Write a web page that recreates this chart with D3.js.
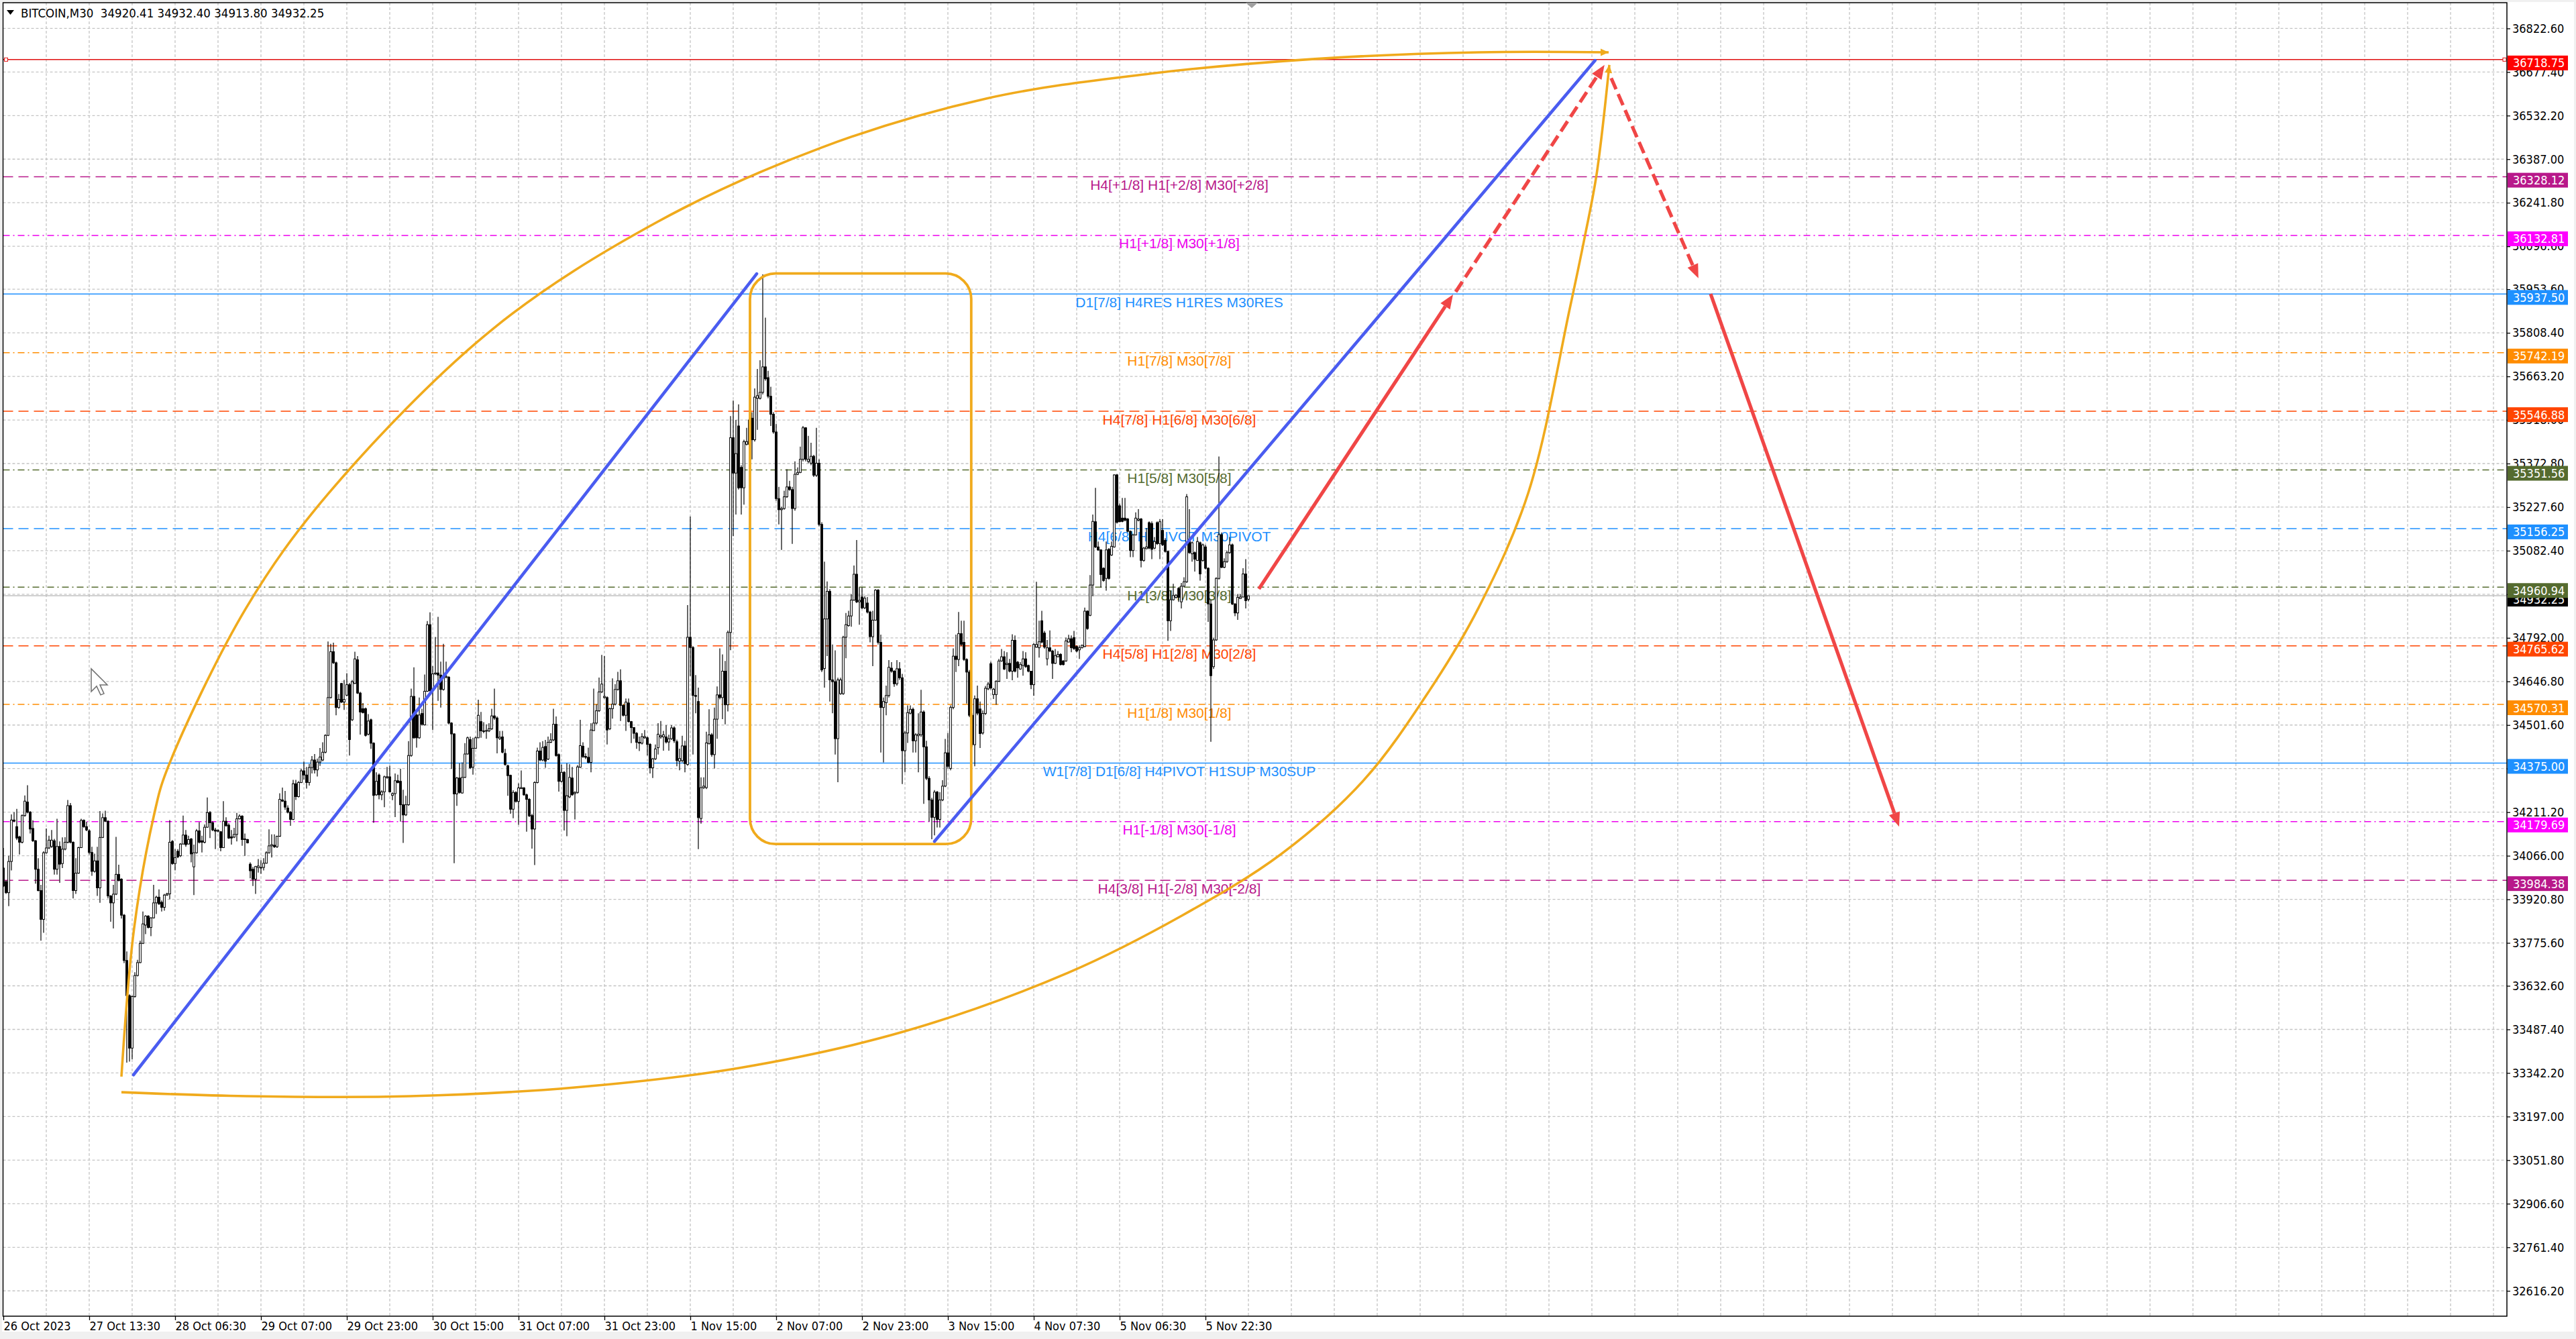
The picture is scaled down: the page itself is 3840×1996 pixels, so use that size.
<!DOCTYPE html>
<html>
<head>
<meta charset="utf-8">
<script src="https://cdn.jsdelivr.net/npm/d3@7"></script>
<style>
body { margin: 0; background: #f0f0f0; }
svg { display: block; }
</style>
</head>
<body>
<svg id="chart" width="3840" height="1996"></svg>
<script>
// ---- data ----
var opens = [
34025,33980,33943,34047,34185,34163,34129,34111,34200,34245,
34211,34157,34116,34021,33950,33854,34076,34092,34097,34116,
34021,34097,34040,34088,34111,34233,34111,33950,34008,34093,
34184,34163,34149,34077,34014,34049,33959,34127,34193,34181,
33932,33909,33938,34004,33988,33868,33717,33600,33425,33597,
33667,33710,33774,33835,33865,33827,33859,33909,33928,33911,
33894,33935,33939,34114,34040,34081,34066,34105,34135,34105,
34122,34029,34076,34149,34116,34111,34161,34210,34176,34152,
34148,34146,34093,34181,34168,34129,34128,34137,34189,34198,
34122,34120,34038,34021,33988,34027,34026,34027,34041,34076,
34099,34101,34096,34131,34252,34248,34225,34211,34187,34306,
34263,34310,34349,34335,34310,34360,34385,34352,34378,34385,
34411,34467,34593,34746,34709,34560,34640,34578,34601,34636,
34519,34640,34719,34608,34556,34556,34471,34519,34441,34269,
34335,34269,34279,34329,34329,34267,34273,34316,34314,34236,
34202,34236,34400,34597,34535,34459,34540,34502,34614,34836,
34616,34672,34675,34668,34620,34661,34661,34508,34472,34272,
34325,34275,34327,34405,34453,34361,34424,34459,34513,34482,
34482,34482,34489,34532,34525,34456,34462,34407,34366,34334,
34221,34277,34247,34290,34292,34269,34254,34200,34155,34310,
34415,34385,34430,34388,34444,34452,34504,34403,34314,34344,
34217,34262,34325,34273,34277,34361,34431,34397,34394,34377,
34483,34508,34549,34612,34593,34593,34489,34556,34571,34620,
34649,34567,34534,34575,34513,34493,34474,34444,34441,34459,
34459,34437,34359,34389,34426,34462,34462,34462,34445,34456,
34492,34446,34381,34383,34432,34370,34794,34760,34600,34580,
34190,34293,34293,34440,34469,34403,34521,34602,34593,34681,
34569,34810,35459,35341,35498,35360,35292,35437,35437,35524,
35452,35590,35590,35610,35695,35659,35597,35537,35478,35256,
35219,35223,35262,35295,35286,35223,35337,35343,35387,35492,
35380,35374,35397,35334,35374,35170,34690,34855,34947,34652,
34646,34456,34606,34606,34794,34833,34865,34918,35004,34912,
34928,34892,34908,34878,34796,34851,34951,34777,34560,34576,
34600,34691,34681,34639,34689,34659,34416,34475,34541,34554,
34449,34466,34469,34545,34429,34324,34252,34194,34278,34187,
34252,34298,34409,34357,34560,34731,34720,34806,34777,34720,
34678,34534,34436,34589,34555,34475,34540,34622,34706,34603,
34603,34647,34715,34729,34703,34707,34681,34784,34711,34688,
34700,34722,34700,34681,34636,34761,34759,34849,34808,34722,
34759,34748,34707,34729,34737,34715,34715,34778,34789,34793,
34763,34752,34759,34763,34881,34867,34968,35179,35095,35085,
35024,34990,35087,35068,35095,35335,35232,35191,35191,35188,
35147,35083,35135,35184,35188,35050,35089,35176,35173,35091,
35176,35106,35150,35117,35080,34849,34919,34927,34957,34912,
34964,34979,35121,35072,35076,35050,35109,35050,35095,35024,
34905,34696,34785,34990,35136,35027,35046,35076,35102,34905,
34875,34923,34928,35005,34920.41];

var highs = [
34092,33984,34066,34204,34211,34222,34133,34204,34267,34301,
34215,34184,34118,34058,33969,34081,34157,34133,34152,34122,
34189,34114,34127,34128,34252,34242,34114,34058,34096,34189,
34187,34179,34154,34096,34073,34096,34215,34207,34216,34184,
33935,33969,34129,34036,33991,33872,33747,33604,33600,33678,
33719,33783,33880,33868,33868,33861,33969,33933,33954,33917,
33939,33943,34185,34118,34088,34088,34108,34200,34152,34133,
34125,34103,34155,34178,34133,34170,34260,34215,34181,34159,
34154,34148,34248,34194,34174,34152,34159,34209,34204,34201,
34140,34122,34044,34029,34032,34055,34051,34058,34081,34154,
34137,34137,34133,34274,34293,34282,34234,34215,34319,34319,
34315,34356,34380,34362,34372,34398,34405,34390,34425,34444,
34471,34780,34772,34776,34713,34605,34642,34652,34674,34642,
34652,34746,34731,34612,34575,34560,34538,34523,34444,34344,
34340,34284,34333,34362,34366,34277,34340,34336,34356,34286,
34266,34448,34623,34694,34540,34593,34556,34670,34848,34877,
34698,34795,34862,34713,34772,34713,34664,34511,34474,34329,
34374,34377,34441,34463,34463,34459,34463,34586,34545,34511,
34504,34508,34556,34623,34530,34482,34482,34422,34370,34336,
34284,34281,34307,34350,34295,34273,34258,34206,34314,34426,
34444,34448,34452,34463,34474,34556,34530,34407,34370,34348,
34374,34371,34362,34281,34368,34519,34444,34407,34426,34508,
34623,34571,34660,34735,34731,34597,34560,34657,34638,34679,
34687,34571,34590,34590,34515,34495,34478,34463,34474,34485,
34463,34441,34392,34437,34508,34515,34482,34501,34469,34501,
34497,34453,34423,34466,34449,34901,35196,34764,34668,34626,
34327,34327,34479,34554,34475,34560,34630,34757,34737,34715,
34816,35531,35583,35518,35570,35367,35452,35492,35524,35544,
35623,35688,35717,36003,35859,35682,35629,35544,35505,35295,
35229,35282,35354,35315,35295,35380,35360,35429,35498,35494,
35465,35442,35402,35492,35387,35177,35046,34980,34954,34770,
34750,34659,34659,34799,34875,34882,34938,35033,35118,34960,
34960,34930,34928,34882,34882,34954,34954,34803,34593,34633,
34718,34711,34685,34718,34711,34672,34482,34567,34567,34560,
34475,34541,34619,34550,34449,34331,34259,34285,34282,34278,
34318,34455,34475,34567,34757,34803,34878,34849,34849,34724,
34685,34541,34600,34633,34580,34550,34632,34645,34712,34625,
34651,34722,34755,34748,34744,34722,34804,34800,34715,34711,
34748,34744,34703,34682,34774,34979,34849,34882,34815,34785,
34817,34752,34755,34748,34741,34718,34793,34802,34800,34815,
34767,34767,34770,34893,34884,35001,35203,35292,35113,35087,
35027,35113,35091,35113,35337,35338,35240,35258,35258,35191,
35150,35139,35210,35221,35191,35095,35158,35180,35180,35128,
35180,35188,35188,35124,35083,34949,34972,34938,34961,34975,
34994,35271,35221,35113,35080,35128,35113,35106,35102,35027,
34919,34793,34994,35396,35143,35057,35083,35128,35106,34908,
34938,34938,35024,35054,34932.40];

var lows = [
33962,33939,33898,34017,34178,34118,34070,34107,34196,34207,
34140,34112,33973,33947,33783,33809,34073,34088,34092,34003,
34003,33976,34025,34084,34107,34107,33924,33939,34006,34092,
34159,34148,34070,33999,34010,33932,33909,34125,34178,33924,
33846,33824,33935,33980,33857,33708,33377,33380,33388,33593,
33664,33708,33772,33805,33824,33798,33857,33872,33902,33880,
33883,33932,33921,34036,34017,34058,34062,34103,34096,34103,
34044,33935,34073,34107,34077,34107,34159,34125,34148,34088,
34144,34081,34092,34163,34122,34103,34125,34114,34187,34099,
34066,34107,33991,33965,33939,34010,34006,34017,34040,34073,
34060,34092,34092,34129,34245,34219,34207,34166,34185,34252,
34260,34308,34320,34290,34300,34340,34340,34330,34365,34381,
34407,34465,34590,34705,34534,34556,34575,34552,34597,34400,
34515,34638,34605,34470,34540,34463,34467,34422,34176,34266,
34254,34251,34228,34322,34277,34251,34195,34307,34180,34109,
34199,34232,34396,34456,34426,34456,34500,34500,34612,34612,
34485,34668,34582,34560,34616,34657,34504,34355,34041,34232,
34273,34273,34325,34403,34355,34336,34422,34458,34459,34474,
34456,34478,34485,34519,34407,34452,34407,34366,34266,34206,
34191,34243,34169,34288,34266,34146,34195,34090,34035,34307,
34381,34381,34359,34385,34441,34448,34396,34280,34310,34150,
34131,34258,34266,34187,34273,34359,34392,34388,34374,34344,
34482,34504,34545,34608,34590,34437,34485,34523,34567,34616,
34515,34530,34482,34510,34441,34456,34422,34415,34437,34456,
34400,34340,34325,34385,34403,34456,34416,34440,34416,34452,
34442,34364,34351,34377,34344,34366,34665,34403,34541,34088,
34173,34288,34288,34436,34396,34357,34456,34587,34521,34504,
34547,34751,35131,35203,35286,35203,35236,35433,35433,35387,
35446,35485,35586,35603,35649,35590,35498,35472,35249,35170,
35085,35219,35258,35282,35105,35216,35334,35341,35380,35380,
35374,35367,35328,35328,35164,34678,34626,34731,34580,34541,
34403,34311,34602,34602,34724,34829,34829,34915,34908,34836,
34888,34888,34873,34777,34698,34849,34770,34410,34377,34534,
34593,34676,34629,34633,34652,34305,34344,34442,34537,34410,
34410,34344,34462,34239,34318,34180,34121,34134,34160,34160,
34248,34295,34357,34351,34554,34678,34698,34764,34715,34573,
34528,34429,34364,34534,34425,34470,34535,34618,34620,34588,
34569,34645,34712,34685,34655,34677,34651,34677,34659,34686,
34666,34692,34677,34621,34599,34759,34726,34774,34756,34700,
34744,34655,34705,34727,34700,34700,34712,34776,34744,34752,
34744,34722,34757,34761,34819,34864,34931,35091,35082,34960,
34979,34949,34986,35065,35092,35173,35177,35177,35180,35143,
35061,35061,35133,35180,35027,35046,35087,35087,35054,35087,
35102,35054,35098,35076,34782,34815,34916,34923,34912,34890,
34962,34975,35072,35046,35013,35048,34983,35046,35020,34845,
34446,34688,34782,34986,35024,35024,35042,35072,34901,34864,
34852,34921,34927,34890,34913.80];

var closes = [
33965,33943,34047,34185,34181,34125,34111,34200,34248,34211,
34155,34116,34021,33950,33854,34076,34092,34118,34118,34021,
34097,34038,34088,34111,34233,34111,33950,34008,34093,34184,
34163,34152,34077,34014,34049,33959,34127,34193,34181,33932,
33909,33938,34004,33984,33868,33717,33600,33425,33597,33667,
33710,33774,33839,33865,33827,33859,33909,33928,33906,33894,
33935,33939,34111,34040,34060,34062,34105,34135,34103,34120,
34072,34076,34149,34111,34111,34161,34210,34176,34152,34148,
34150,34093,34181,34166,34125,34125,34137,34189,34198,34120,
34120,34109,34016,33988,34030,34032,34027,34041,34076,34099,
34103,34096,34131,34254,34248,34228,34211,34187,34306,34263,
34310,34349,34335,34310,34360,34385,34352,34378,34395,34411,
34467,34593,34746,34709,34560,34587,34578,34587,34636,34453,
34646,34722,34608,34545,34543,34467,34515,34441,34267,34314,
34269,34279,34329,34327,34279,34273,34316,34310,34236,34202,
34236,34400,34597,34459,34459,34535,34504,34614,34836,34616,
34672,34675,34668,34620,34664,34664,34508,34472,34272,34325,
34277,34327,34405,34459,34359,34424,34459,34534,34482,34480,
34483,34489,34532,34525,34459,34461,34411,34370,34333,34221,
34277,34247,34292,34293,34269,34254,34199,34155,34310,34415,
34385,34427,34381,34444,34452,34504,34400,34314,34344,34217,
34266,34327,34269,34277,34362,34433,34396,34394,34377,34485,
34508,34549,34612,34638,34597,34485,34556,34571,34620,34649,
34567,34534,34578,34513,34493,34474,34444,34441,34463,34463,
34437,34359,34389,34422,34471,34466,34469,34445,34456,34492,
34449,34383,34390,34432,34373,34794,34760,34600,34597,34193,
34293,34298,34442,34469,34403,34521,34602,34593,34681,34569,
34810,35459,35341,35406,35292,35292,35446,35446,35518,35452,
35594,35599,35610,35695,35655,35597,35537,35478,35256,35219,
35223,35262,35295,35286,35223,35337,35343,35387,35492,35387,
35387,35397,35334,35374,35170,34685,34855,34947,34652,34646,
34456,34652,34652,34794,34836,34865,34918,35004,34912,34917,
34892,34924,34878,34796,34851,34951,34777,34560,34580,34600,
34694,34681,34639,34689,34659,34416,34475,34543,34554,34449,
34469,34471,34545,34429,34324,34252,34194,34278,34187,34252,
34298,34409,34364,34560,34731,34720,34806,34770,34720,34678,
34534,34436,34589,34541,34473,34540,34624,34638,34625,34621,
34647,34715,34729,34688,34707,34681,34784,34681,34692,34703,
34722,34696,34681,34636,34770,34770,34779,34778,34761,34759,
34748,34707,34733,34737,34703,34703,34782,34789,34759,34756,
34748,34759,34767,34881,34823,34968,35180,35095,35085,35003,
34983,35085,34990,35097,35335,35177,35179,35180,35184,35147,
35083,35135,35191,35188,35050,35091,35095,35091,35087,35113,
35106,35179,35102,35080,34849,34919,34933,34934,34927,34964,
34979,35262,35076,35109,35054,35113,35005,35102,35024,34905,
34666,34785,34990,35136,35027,35046,35076,35102,34905,34875,
34927,34928,35005,34916,34932.25];

var timeLabels = ["26 Oct 2023", "27 Oct 13:30", "28 Oct 06:30", "29 Oct 07:00",
  "29 Oct 23:00", "30 Oct 15:00", "31 Oct 07:00", "31 Oct 23:00", "1 Nov 15:00",
  "2 Nov 07:00", "2 Nov 23:00", "3 Nov 15:00", "4 Nov 07:30", "5 Nov 06:30", "5 Nov 22:30"];
var timeLabelBars = [0, 32, 64, 96, 128, 160, 192, 224, 256, 288, 320, 352, 384, 416, 448];

var priceTicks = [36822.60, 36677.40, 36532.20, 36387.00, 36241.80, 36096.60, 35953.60,
  35808.40, 35663.20, 35518.00, 35372.80, 35227.60, 35082.40, 34937.20, 34792.00,
  34646.80, 34501.60, 34356.40, 34211.20, 34066.00, 33920.80, 33775.60, 33632.60,
  33487.40, 33342.20, 33197.00, 33051.80, 32906.60, 32761.40, 32616.20];

var levelPrices = [36718.75, 36328.12, 36132.81, 35937.50, 35742.19, 35546.88, 35351.56,
  35156.25, 34960.94, 34765.62, 34570.31, 34375.00, 34179.69, 33984.38];
var levelNames = ["", "H4[+1/8] H1[+2/8] M30[+2/8]", "H1[+1/8] M30[+1/8]",
  "D1[7/8] H4RES H1RES M30RES", "H1[7/8] M30[7/8]", "H4[7/8] H1[6/8] M30[6/8]",
  "H1[5/8] M30[5/8]", "H4[6/8] H1PIVOT M30PIVOT", "H1[3/8] M30[3/8]",
  "H4[5/8] H1[2/8] M30[2/8]", "H1[1/8] M30[1/8]", "W1[7/8] D1[6/8] H4PIVOT H1SUP M30SUP",
  "H1[-1/8] M30[-1/8]", "H4[3/8] H1[-2/8] M30[-2/8]"];

var symbolTitle = "BITCOIN,M30  34920.41 34932.40 34913.80 34932.25";
var bidPrice = 34932.25;

// drawings, as [bar, price]
var blueLine1 = [[48.5, 33336], [280.75, 36005]];
var blueLine2 = [[347, 34114], [593.2, 36716]];
var boxBars = [278.25, 360.7];
var boxPrices = [36006, 34105];
var upperArc = [[44, 33330], [48.75, 33826], [56.25, 34206], [60.75, 34347], [90.5, 34892],
  [121.25, 35274], [182.5, 35822], [243.75, 36178], [305, 36426], [366.25, 36589],
  [427.5, 36672], [488.75, 36721], [549.75, 36743], [598.25, 36743]];
var lowerArc = [[44, 33278], [90.5, 33265], [151.75, 33265], [213, 33294], [274.25, 33359],
  [335.5, 33480], [396.75, 33676], [439.5, 33868], [476.25, 34072], [507, 34318],
  [531.5, 34617], [549.75, 34892], [568.25, 35274], [583.75, 35889], [589.5, 36135],
  [593.75, 36336], [598.5, 36701]];
var redPath = [
  {from: [467.9, 34955], to: [540.25, 35936], dashed: false},
  {from: [541.25, 35945], to: [596.7, 36701], dashed: true},
  {from: [599.2, 36657], to: [631.7, 35990], dashed: true},
  {from: [636.25, 35938], to: [706.5, 34163], dashed: false}
];
var cursorAt = [32.75, 34689];

// ---- layout ----
var W = 3840, H = 1996;
var plot = {left: 4.5, top: 4, right: 3737, bottom: 1962};

var x = d3.scaleLinear().domain([0, 933]).range([5, 3737]);
var y = d3.scaleLinear().domain([32531.8, 36908.4]).range([plot.bottom, plot.top]);

var axisFont = "'DejaVu Sans', 'Liberation Sans', sans-serif";
var textFont = "'Liberation Sans', Arial, sans-serif";

var levelStyle = [
  {color: "#e01010", box: "#ff0000", dash: null},
  {color: "#b8188a", box: "#b8188a", dash: "15,8"},
  {color: "#ee00ee", box: "#ff00ff", dash: "10,5,2,5"},
  {color: "#1e90ff", box: "#1e90ff", dash: null},
  {color: "#ff8c00", box: "#ff8c00", dash: "10,5,2,5"},
  {color: "#ff4500", box: "#ff4500", dash: "15,8"},
  {color: "#556b2f", box: "#556b2f", dash: "10,5,2,5"},
  {color: "#1e90ff", box: "#1e90ff", dash: "15,8"},
  {color: "#556b2f", box: "#556b2f", dash: "10,5,2,5"},
  {color: "#ff4500", box: "#ff4500", dash: "15,8"},
  {color: "#ff8c00", box: "#ff8c00", dash: "10,5,2,5"},
  {color: "#1e90ff", box: "#1e90ff", dash: null},
  {color: "#ee00ee", box: "#ff00ff", dash: "10,5,2,5"},
  {color: "#b8188a", box: "#b8188a", dash: "15,8"}
];

var svg = d3.select("#chart");

svg.append("rect").attr("width", W).attr("height", H).attr("fill", "#f0f0f0");
svg.append("rect").attr("x", 3).attr("y", 3).attr("width", 3834).attr("height", 1982)
  .attr("fill", "#ffffff");

svg.append("defs").append("clipPath").attr("id", "plotClip")
  .append("rect")
    .attr("x", plot.left).attr("y", plot.top)
    .attr("width", plot.right - plot.left).attr("height", plot.bottom - plot.top);

// grid
var grid = svg.append("g").attr("clip-path", "url(#plotClip)")
  .attr("stroke", "#c4c4c4").attr("stroke-width", 1.3).attr("stroke-dasharray", "4,3");
grid.selectAll("line.h").data(priceTicks).enter().append("line")
  .attr("x1", plot.left).attr("x2", plot.right)
  .attr("y1", function(d) { return y(d); }).attr("y2", function(d) { return y(d); });
grid.selectAll("line.v").data(d3.range(16, 934, 16)).enter().append("line")
  .attr("y1", plot.top).attr("y2", plot.bottom)
  .attr("x1", function(d) { return x(d); }).attr("x2", function(d) { return x(d); });

// level lines
var levels = svg.append("g").attr("clip-path", "url(#plotClip)");
levels.selectAll("line").data(levelPrices).enter().append("line")
  .attr("x1", plot.left).attr("x2", plot.right)
  .attr("y1", function(d) { return y(d); }).attr("y2", function(d) { return y(d); })
  .attr("stroke", function(d, i) { return levelStyle[i].color; })
  .attr("stroke-width", 1.5)
  .attr("stroke-dasharray", function(d, i) { return levelStyle[i].dash; });

// bid line
levels.append("line")
  .attr("x1", plot.left).attr("x2", plot.right)
  .attr("y1", y(bidPrice)).attr("y2", y(bidPrice))
  .attr("stroke", "#c0c0c0").attr("stroke-width", 1.5);

// level names
levels.selectAll("text").data(levelPrices).enter().append("text")
  .attr("x", x(438.25))
  .attr("y", function(d) { return y(d) + 19.5; })
  .attr("text-anchor", "middle")
  .attr("font-family", textFont).attr("font-size", 21)
  .attr("fill", function(d, i) { return levelStyle[i].color; })
  .text(function(d, i) { return levelNames[i]; });

// candles
var candles = opens.map(function(o, i) {
  return {i: i, o: o, h: highs[i], l: lows[i], c: closes[i]};
});
var cg = svg.append("g").attr("clip-path", "url(#plotClip)");
cg.selectAll("line").data(candles).enter().append("line")
  .attr("x1", function(d) { return x(d.i); }).attr("x2", function(d) { return x(d.i); })
  .attr("y1", function(d) { return y(d.h); }).attr("y2", function(d) { return y(d.l); })
  .attr("stroke", "#000").attr("stroke-width", 1.2);
cg.selectAll("rect").data(candles).enter().append("rect")
  .attr("x", function(d) { return x(d.i) - 1.4; })
  .attr("width", 2.8)
  .attr("y", function(d) { return y(Math.max(d.o, d.c)); })
  .attr("height", function(d) { return Math.max(0.8, Math.abs(y(d.o) - y(d.c))); })
  .attr("fill", function(d) { return d.c >= d.o ? "#ffffff" : "#000000"; })
  .attr("stroke", "#000").attr("stroke-width", 1);

// drawings
var dg = svg.append("g").attr("clip-path", "url(#plotClip)");
var orange = "#f0aa1c", blue = "#4a5cf0", red = "#f04646";

function arrowHead(tip, from, len, half) {
  var dx = tip[0] - from[0], dy = tip[1] - from[1];
  var n = Math.sqrt(dx * dx + dy * dy);
  var ux = dx / n, uy = dy / n;
  var bx = tip[0] - ux * len, by = tip[1] - uy * len;
  return {
    base: [bx, by],
    points: [[tip[0], tip[1]], [bx - uy * half, by + ux * half], [bx + uy * half, by - ux * half]]
  };
}
function px(d) { return [x(d[0]), y(d[1])]; }

var arcLine = d3.line().x(function(d) { return x(d[0]); }).y(function(d) { return y(d[1]); })
  .curve(d3.curveCatmullRom.alpha(0.5));

[upperArc, lowerArc].forEach(function(arc) {
  dg.append("path").attr("d", arcLine(arc))
    .attr("fill", "none").attr("stroke", orange).attr("stroke-width", 3.6);
  var n = arc.length;
  var head = arrowHead(px(arc[n - 1]), px(arc[n - 2]), 12, 5.5);
  dg.append("polygon").attr("points", head.points.map(function(p) { return p.join(","); }).join(" "))
    .attr("fill", orange);
});

dg.append("rect")
  .attr("x", x(boxBars[0])).attr("y", y(boxPrices[0]))
  .attr("width", x(boxBars[1]) - x(boxBars[0]))
  .attr("height", y(boxPrices[1]) - y(boxPrices[0]))
  .attr("rx", 38).attr("ry", 38)
  .attr("fill", "none").attr("stroke", orange).attr("stroke-width", 3.8);

[blueLine1, blueLine2].forEach(function(seg) {
  dg.append("line")
    .attr("x1", x(seg[0][0])).attr("y1", y(seg[0][1]))
    .attr("x2", x(seg[1][0])).attr("y2", y(seg[1][1]))
    .attr("stroke", blue).attr("stroke-width", 4.6).attr("stroke-linecap", "round");
});

redPath.forEach(function(a) {
  var s = px(a.from), t = px(a.to);
  var head = arrowHead(t, s, 21, 8.5);
  dg.append("line")
    .attr("x1", s[0]).attr("y1", s[1])
    .attr("x2", head.base[0]).attr("y2", head.base[1])
    .attr("stroke", red).attr("stroke-width", 5.2)
    .attr("stroke-dasharray", a.dashed ? "18,8" : null);
  dg.append("polygon").attr("points", head.points.map(function(p) { return p.join(","); }).join(" "))
    .attr("fill", red);
});

// handles of the selected red line
[plot.left + 2, plot.right - 6].forEach(function(hx) {
  svg.append("rect").attr("x", hx).attr("y", y(levelPrices[0]) - 2.5)
    .attr("width", 5).attr("height", 5)
    .attr("fill", "#fff").attr("stroke", "#e01010").attr("stroke-width", 1);
});

// plot frame
svg.append("rect")
  .attr("x", plot.left).attr("y", plot.top)
  .attr("width", plot.right - plot.left).attr("height", plot.bottom - plot.top)
  .attr("fill", "none").attr("stroke", "#000").attr("stroke-width", 1.5);

// price axis
var yAxis = d3.axisRight(y).tickValues(priceTicks).tickSize(5).tickPadding(3)
  .tickFormat(d3.format(".2f"));
var yg = svg.append("g").attr("transform", "translate(" + plot.right + ",0)").call(yAxis);
yg.select(".domain").remove();
yg.selectAll("line").attr("stroke", "#000").attr("stroke-width", 1.3);
yg.selectAll("text").attr("font-family", axisFont).attr("font-size", 18)
  .attr("font-stretch", "condensed").attr("fill", "#000");

// time axis
var xAxis = d3.axisBottom(x).tickValues(timeLabelBars).tickSize(6).tickPadding(2.5)
  .tickFormat(function(d, i) { return timeLabels[i]; });
var xg = svg.append("g").attr("transform", "translate(0," + plot.bottom + ")").call(xAxis);
xg.select(".domain").remove();
xg.selectAll("line").attr("stroke", "#000").attr("stroke-width", 1.3);
xg.selectAll("text").attr("font-family", axisFont).attr("font-size", 18)
  .attr("font-stretch", "condensed").attr("fill", "#000")
  .attr("text-anchor", "start").attr("x", 0);

// price labels on the axis
function priceBox(price, fill) {
  var g = svg.append("g").attr("transform", "translate(" + (plot.right + 1) + "," + y(price) + ")");
  g.append("rect").attr("x", 0).attr("y", -6).attr("width", 90).attr("height", 22).attr("fill", fill);
  g.append("text").attr("x", 8).attr("y", 11.5)
    .attr("font-family", axisFont).attr("font-size", 18).attr("font-stretch", "condensed")
    .attr("fill", "#fff").text(d3.format(".2f")(price));
}
priceBox(bidPrice, "#000000");
levelPrices.forEach(function(p, i) { priceBox(p, levelStyle[i].box); });

// title
svg.append("polygon")
  .attr("points", [[10, 15], [21, 15], [15.5, 22]].map(function(p) { return p.join(","); }).join(" "))
  .attr("fill", "#000");
svg.append("text").attr("x", 31).attr("y", 25.5)
  .attr("font-family", axisFont).attr("font-size", 18.5).attr("font-stretch", "condensed")
  .style("white-space", "pre").attr("fill", "#000").text(symbolTitle);

// chart shift marker
var sx = x(465.25);
svg.append("polygon")
  .attr("points", [[sx - 9, plot.top], [sx + 9, plot.top], [sx, plot.top + 8]]
    .map(function(p) { return p.join(","); }).join(" "))
  .attr("fill", "#a0a0a0");

// mouse pointer left on the chart
var cx = x(cursorAt[0]), cy = y(cursorAt[1]);
var pointer = [[0, 0], [0, 17], [4, 13], [7, 19.5], [9.5, 18.5], [6.5, 12], [12, 12]];
svg.append("polygon")
  .attr("points", pointer.map(function(p) { return (cx + p[0] * 2) + "," + (cy + p[1] * 2); }).join(" "))
  .attr("fill", "#ffffff").attr("stroke", "#707070").attr("stroke-width", 1.5);
</script>
</body>
</html>
